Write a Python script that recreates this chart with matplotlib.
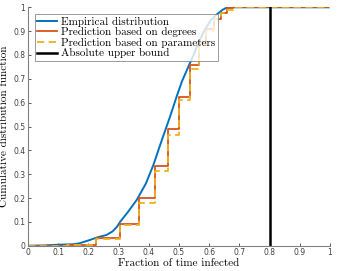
import matplotlib.pyplot as plt
import numpy as np

# empirical CDF
emp_x = [0, 0.05, 0.1, 0.15, 0.17, 0.2, 0.23, 0.26, 0.28, 0.295, 0.305, 0.33, 0.36,
         0.39, 0.415, 0.445, 0.47, 0.492, 0.51, 0.531, 0.548, 0.564,
         0.585, 0.606, 0.625, 0.645, 0.66, 1.0]
emp_y = [0, 0.001, 0.004, 0.006, 0.01, 0.022, 0.035, 0.045, 0.06, 0.08, 0.10, 0.14, 0.192,
         0.26, 0.338, 0.45, 0.54, 0.625, 0.69, 0.751, 0.80, 0.849,
         0.905, 0.947, 0.97, 0.99, 1.0, 1.0]

# step predictions
step_x = [0, 0.13, 0.224, 0.303, 0.367, 0.42, 0.465, 0.50, 0.535, 0.565, 0.59, 0.615, 0.64, 0.66, 0.68, 1.0]
deg_y = [0, 0.005, 0.033, 0.093, 0.2, 0.335, 0.49, 0.625, 0.757, 0.853, 0.91, 0.953, 0.978, 0.995, 1.0, 1.0]
par_y = [0, 0.003, 0.03, 0.088, 0.18, 0.313, 0.465, 0.61, 0.74, 0.84, 0.9, 0.95, 0.975, 0.99, 1.0, 1.0]

bound_x = 0.8

serif = 'cmr10'
plt.rcParams['axes.formatter.use_mathtext'] = True

fig = plt.figure(figsize=(3.37, 2.71), dpi=100)
ax = fig.add_axes([28/337, 25.3/271, 302/337, 238.4/271])

ax.plot(emp_x, emp_y, color='#0072BD', lw=1.4, label='Empirical distribution')
ax.step(step_x, deg_y, where='post', color='#D95319', lw=1.3, label='Prediction based on degrees')
ax.step(step_x, par_y, where='post', color='#EDB120', lw=1.3, ls=(0, (4, 2.5)),
        label='Prediction based on parameters')
ax.plot([bound_x, bound_x], [0, 1], color='black', lw=1.8, label='Absolute upper bound')

ax.set_xlim(0, 1)
ax.set_ylim(0, 1)
ax.set_xticks(np.arange(0, 1.01, 0.1))
ax.set_yticks(np.arange(0, 1.01, 0.1))
ax.set_xticklabels(['0', '0.1', '0.2', '0.3', '0.4', '0.5', '0.6', '0.7', '0.8', '0.9', '1'])
ax.set_yticklabels(['0', '0.1', '0.2', '0.3', '0.4', '0.5', '0.6', '0.7', '0.8', '0.9', '1'])
ax.tick_params(direction='in', length=2.5, width=0.6, labelsize=5.5, colors='#404040', pad=2)
for s in ['top', 'right']:
    ax.spines[s].set_visible(False)
for s in ['left', 'bottom']:
    ax.spines[s].set_color('#808080')
    ax.spines[s].set_linewidth(0.8)

ax.set_xlabel('Fraction of time infected', fontfamily=serif, fontsize=8, labelpad=1)
ax.set_ylabel('Cumulative distribution function', fontfamily=serif, fontsize=8, labelpad=3)

leg = ax.legend(loc='upper left', prop={'family': serif, 'size': 8}, frameon=True, fancybox=False,
                borderpad=0.25, labelspacing=0.05, handlelength=1.8, handletextpad=0.35,
                borderaxespad=0.6)
leg.get_frame().set_edgecolor('#808080')
leg.get_frame().set_linewidth(0.7)

fig.savefig('out.png', dpi=100)
